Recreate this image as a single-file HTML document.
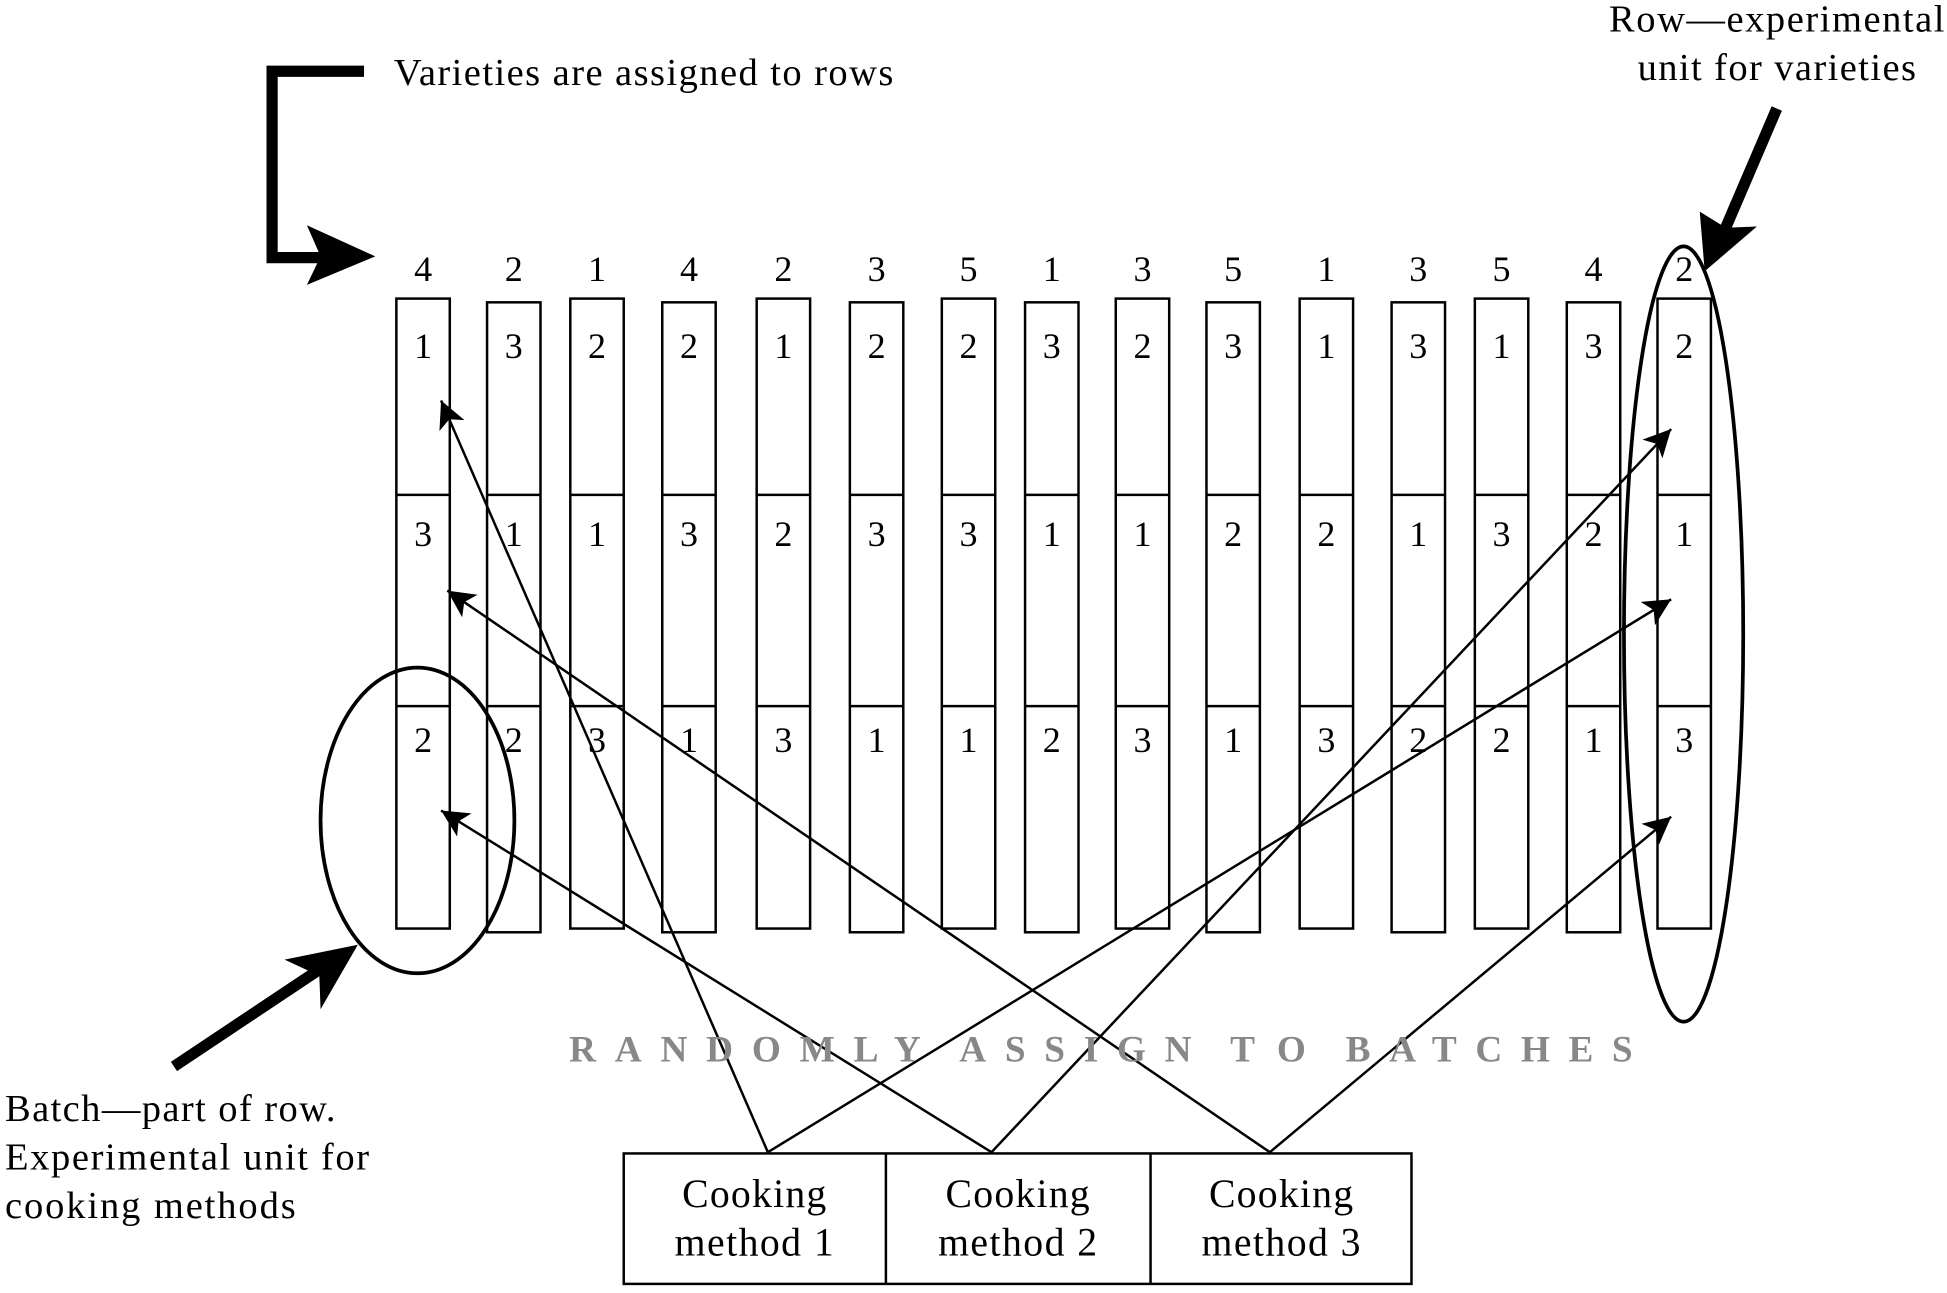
<!DOCTYPE html>
<html><head><meta charset="utf-8"><style>
html,body{margin:0;padding:0;background:#fff;}
svg{display:block;}
text{font-family:"Liberation Serif",serif;}
</style></head><body>
<svg id="fig" width="1947" height="1293" viewBox="0 0 1567 1040">
<defs>
<marker id="ah" viewBox="0 0 10 10" refX="10" refY="5" markerWidth="22" markerHeight="22" markerUnits="userSpaceOnUse" orient="auto"><path d="M0,0 L10,5 L0,10 L2.5,5 z" fill="#000"/></marker>
</defs>
<g id="cols"></g>
<g id="arrows"></g>
<g font-size="30" font-weight="bold" fill="#888">
<text x="458" y="854" textLength="283" lengthAdjust="spacing">RANDOMLY</text>
<text x="772" y="854" textLength="187" lengthAdjust="spacing">ASSIGN</text>
<text x="990" y="854" textLength="61" lengthAdjust="spacing">TO</text>
<text x="1083" y="854" textLength="231" lengthAdjust="spacing">BATCHES</text>
</g>
<g stroke="#000" stroke-width="2" fill="none">
<rect x="502" y="928" width="634" height="105"/>
<line x1="713" y1="928" x2="713" y2="1033"/>
<line x1="926" y1="928" x2="926" y2="1033"/>
</g>
<g font-size="32" text-anchor="middle">
<text x="607" y="971"><tspan textLength="116">Cooking</tspan><tspan x="607" dy="39" textLength="128">method 1</tspan></text>
<text x="819" y="971"><tspan textLength="116">Cooking</tspan><tspan x="819" dy="39" textLength="128">method 2</tspan></text>
<text x="1031" y="971"><tspan textLength="116">Cooking</tspan><tspan x="1031" dy="39" textLength="128">method 3</tspan></text>
</g>
<ellipse cx="336" cy="660" rx="78" ry="123" fill="none" stroke="#000" stroke-width="3"/>
<ellipse cx="1355" cy="510" rx="48" ry="312" fill="none" stroke="#000" stroke-width="3"/>
<g>
<path d="M293,57 L219,57 L219,207 L262,207" fill="none" stroke="#000" stroke-width="9"/>
<path d="M302,206 L247,181 L258,206 L247,229 z" fill="#000"/>
</g>
<g>
<line x1="1430" y1="87" x2="1388" y2="185" stroke="#000" stroke-width="9"/>
<path d="M1372,218 L1368,170 L1389,183 L1414,182 z" fill="#000"/>
</g>
<g>
<line x1="140" y1="858" x2="260" y2="778" stroke="#000" stroke-width="9"/>
<path d="M288,760 L258,812 L257,785 L229,772 z" fill="#000"/>
</g>
<text x="317" y="68" font-size="31" textLength="402">Varieties are assigned to rows</text>
<text x="1430" y="25" font-size="31" text-anchor="middle"><tspan textLength="270">Row—experimental</tspan><tspan x="1430" dy="39" textLength="224">unit for varieties</tspan></text>
<text x="4" y="902" font-size="31"><tspan textLength="266">Batch—part of row.</tspan><tspan x="4" dy="39" textLength="293">Experimental unit for</tspan><tspan x="4" dy="39" textLength="234">cooking methods</tspan></text>
</svg>
<script>
const varieties=[4,2,1,4,2,3,5,1,3,5,1,3,5,4,2];
const topMethod=[1,3,2,2,1,2,2,3,2,3,1,3,1,3,2];
const midMethod=[3,1,1,3,2,3,3,1,1,2,2,1,3,2,1];
const botMethod=[2,2,3,1,3,1,1,2,3,1,3,2,2,1,3];
const colLeft=[319,392,459,533,609,684,758,825,898,971,1046,1120,1187,1261,1334];
const NS="http://www.w3.org/2000/svg";
const g=document.getElementById('cols');
function mk(t,a,txt){const e=document.createElementNS(NS,t);for(const k in a)e.setAttribute(k,a[k]);if(txt!==undefined)e.textContent=txt;return e;}
colLeft.forEach((x,i)=>{
  const w=43, top=(i%2?243:240), bot=(i%2?750:747);
  const r=mk('rect',{x:x,y:top,width:w,height:bot-top,fill:'none',stroke:'#000','stroke-width':2});
  
  
  g.appendChild(r);
  [398,568].forEach(y=>{g.appendChild(mk('line',{x1:x,y1:y,x2:x+w,y2:y,stroke:'#000','stroke-width':2}));});
  const cx=x+w/2;
  const v=mk('text',{x:cx,y:226,'font-size':29,'text-anchor':'middle'},varieties[i]);
  
  
  g.appendChild(v);
  [[topMethod,288],[midMethod,439],[botMethod,605]].forEach(([arr,y])=>{
    const t=mk('text',{x:cx,y:y,'font-size':29,'text-anchor':'middle'},arr[i]);
    
    
    g.appendChild(t);
  });
});
const src=[[618,927],[798,927],[1022,927]];
const targets=[[0,[355,322]],[14,[1345,482]],[1,[355,652]],[1,[1345,345]],[2,[360,475]],[2,[1345,657]]];
const ag=document.getElementById('arrows');
const from=[0,0,1,1,2,2];
targets.forEach((t,k)=>{
  const s=src[from[k]];
  const l=mk('line',{x1:s[0],y1:s[1],x2:t[1][0],y2:t[1][1],stroke:'#000','stroke-width':2,'marker-end':'url(#ah)'});
  
  
  ag.appendChild(l);
});
</script>
</body></html>
